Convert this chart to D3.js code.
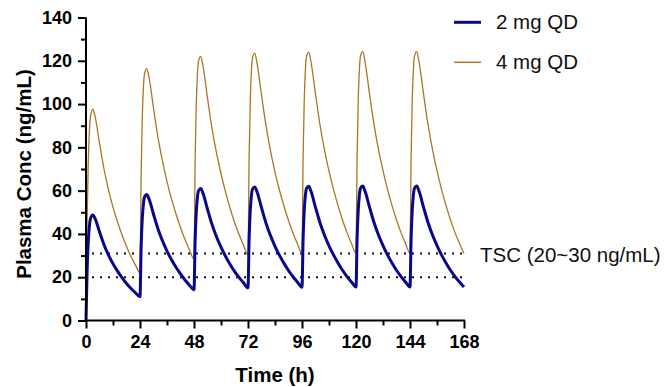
<!DOCTYPE html>
<html>
<head>
<meta charset="utf-8">
<script src="https://cdn.jsdelivr.net/npm/d3@7"></script>
<style>
  html, body { margin: 0; padding: 0; background: #fff; }
  svg { display: block; font-family: "Liberation Sans", Arial, sans-serif; }
</style>
</head>
<body>
<svg id="chart" width="665" height="387"></svg>
<script>
// ---- data ----
const timeH = [
  0,0.5,1,1.5,2,3,4,6,8,10,12,14,16,18,20,22,
  24,24.5,25,25.5,26,27,28,30,32,34,36,38,40,42,44,46,
  48,48.5,49,49.5,50,51,52,54,56,58,60,62,64,66,68,70,
  72,72.5,73,73.5,74,75,76,78,80,82,84,86,88,90,92,94,
  96,96.5,97,97.5,98,99,100,102,104,106,108,110,112,114,116,118,
  120,120.5,121,121.5,122,123,124,126,128,130,132,134,136,138,140,142,
  144,144.5,145,145.5,146,147,148,150,152,154,156,158,160,162,164,166,
  168
];
const conc2mg = [
  0,23.1,36.3,43.5,47.1,48.8,47.2,41.0,35.0,30.2,26.2,22.8,19.8,17.1,14.8,12.8,
  11.0,33.8,46.8,53.7,57.0,58.2,56.2,49.1,42.3,36.8,32.1,28.1,24.6,21.5,18.7,16.3,
  14.2,36.9,49.8,56.6,59.9,61.0,58.8,51.4,44.4,38.7,33.9,29.7,26.0,22.7,19.9,17.4,
  15.1,37.8,50.6,57.5,60.7,61.7,59.5,52.1,45.0,39.2,34.3,30.1,26.4,23.1,20.2,17.7,
  15.4,38.1,50.9,57.8,61.0,62.0,59.7,52.3,45.2,39.4,34.5,30.3,26.6,23.2,20.3,17.8,
  15.5,38.2,51.0,57.9,61.1,62.1,59.8,52.4,45.3,39.5,34.6,30.3,26.6,23.2,20.3,17.8,
  15.5,38.2,51.0,57.9,61.1,62.1,59.8,52.4,45.3,39.5,34.6,30.3,26.6,23.2,20.3,17.8,
  15.5
];
const conc4mg = [
  0,46.2,72.6,87.0,94.2,97.6,94.4,82.0,70.0,60.4,52.4,45.6,39.6,34.2,29.6,25.6,
  22.0,67.6,93.6,107.4,114.0,116.4,112.4,98.2,84.6,73.6,64.2,56.2,49.2,43.0,37.4,32.6,
  28.4,73.8,99.6,113.2,119.8,122.0,117.6,102.8,88.8,77.4,67.8,59.4,52.0,45.4,39.8,34.8,
  30.2,75.6,101.2,115.0,121.4,123.4,119.0,104.2,90.0,78.4,68.6,60.2,52.8,46.2,40.4,35.4,
  30.8,76.2,101.8,115.6,122.0,124.0,119.4,104.6,90.4,78.8,69.0,60.6,53.2,46.4,40.6,35.6,
  31.0,76.4,102.0,115.8,122.2,124.2,119.6,104.8,90.6,79.0,69.2,60.6,53.2,46.4,40.6,35.6,
  31.0,76.4,102.0,115.8,122.2,124.2,119.6,104.8,90.6,79.0,69.2,60.6,53.2,46.4,40.6,35.6,
  31.0
];
const seriesNames = ["2 mg QD", "4 mg QD"];
const tscLevels = [20, 31];
const tscLabel = "TSC (20~30 ng/mL)";
const xMajorTicks = [0, 24, 48, 72, 96, 120, 144, 168];
const xMinorTicks = [12, 36, 60, 84, 108, 132, 156];
const yMajorTicks = [0, 20, 40, 60, 80, 100, 120, 140];
const yMinorTicks = [10, 30, 50, 70, 90, 110, 130];
const xTitle = "Time (h)";
const yTitle = "Plasma Conc (ng/mL)";

// ---- layout ----
const svg = d3.select("#chart");
const pLeft = 86, pRight = 464, pTop = 17.5, pBottom = 320.5;
const x = d3.scaleLinear().domain([0, 168]).range([pLeft, pRight]);
const y = d3.scaleLinear().domain([0, 140]).range([pBottom, pTop]);
const colors = ["#07088C", "#AD7426"];
const widths = [3, 1.3];

// dotted TSC lines
svg.append("g").selectAll("line").data(tscLevels).join("line")
  .attr("x1", x(0)).attr("x2", x(168))
  .attr("y1", d => y(d)).attr("y2", d => y(d))
  .attr("stroke", "#111").attr("stroke-width", 2)
  .attr("stroke-dasharray", "2,6").attr("stroke-dashoffset", 2);

// series
const line = d3.line().x((d, i) => x(timeH[i])).y(d => y(d)).curve(d3.curveMonotoneX);
[[conc4mg, 1], [conc2mg, 0]].forEach(([vals, k]) => {
  svg.append("path").datum(vals)
    .attr("d", line)
    .attr("fill", "none")
    .attr("stroke", colors[k])
    .attr("stroke-width", widths[k])
    .attr("stroke-linejoin", "round");
});

// axes
const xAxis = svg.append("g").attr("transform", `translate(0,${pBottom})`)
  .call(d3.axisBottom(x).tickValues(xMajorTicks).tickSize(8).tickPadding(7).tickFormat(d3.format("d")));
const xMinor = svg.append("g").attr("transform", `translate(0,${pBottom})`)
  .call(d3.axisBottom(x).tickValues(xMinorTicks).tickSize(5).tickFormat(""));
const yAxis = svg.append("g").attr("transform", `translate(${pLeft},0)`)
  .call(d3.axisLeft(y).tickValues(yMajorTicks).tickSize(8).tickPadding(6).tickFormat(d3.format("d")));
const yMinor = svg.append("g").attr("transform", `translate(${pLeft},0)`)
  .call(d3.axisLeft(y).tickValues(yMinorTicks).tickSize(5).tickFormat(""));

[xAxis, xMinor, yAxis, yMinor].forEach(g => {
  g.selectAll("path.domain").attr("stroke", "#000").attr("stroke-width", 2);
  g.selectAll(".tick line").attr("stroke", "#000").attr("stroke-width", 2);
  g.selectAll(".tick text").attr("fill", "#000")
    .attr("font-family", "'Liberation Sans', Arial, sans-serif")
    .attr("font-size", 18).attr("font-weight", "bold");
});
[xMinor, yMinor].forEach(g => g.select("path.domain").remove());
xAxis.select("path.domain").attr("d", `M${pLeft - 1},0H${pRight + 1}`);
yAxis.select("path.domain").attr("d", `M0,${pTop}V${pBottom + 1}`);

// axis titles
svg.append("text").attr("x", (pLeft + pRight) / 2).attr("y", 382)
  .attr("text-anchor", "middle").attr("font-size", 20.5).attr("font-weight", "bold")
  .attr("fill", "#000").text(xTitle);
svg.append("text").attr("transform", `translate(31,${(pTop + pBottom) / 2 + 5}) rotate(-90)`)
  .attr("text-anchor", "middle").attr("font-size", 20.5).attr("font-weight", "bold")
  .attr("fill", "#000").text(yTitle);

// legend
const legend = svg.append("g");
seriesNames.forEach((name, i) => {
  const ly = 22.3 + i * 40;
  legend.append("line").attr("x1", 454).attr("x2", 481).attr("y1", ly).attr("y2", ly)
    .attr("stroke", colors[i]).attr("stroke-width", i === 0 ? 3 : 1.5);
  legend.append("text").attr("x", 496).attr("y", ly).attr("dy", "0.35em")
    .attr("font-size", 20.5).attr("fill", "#111").text(name);
});

// TSC label
svg.append("text").attr("x", 480).attr("y", y(tscLevels[1]) + 1).attr("dy", "0.35em")
  .attr("font-size", 20.5).attr("fill", "#111").text(tscLabel);
</script>
</body>
</html>
